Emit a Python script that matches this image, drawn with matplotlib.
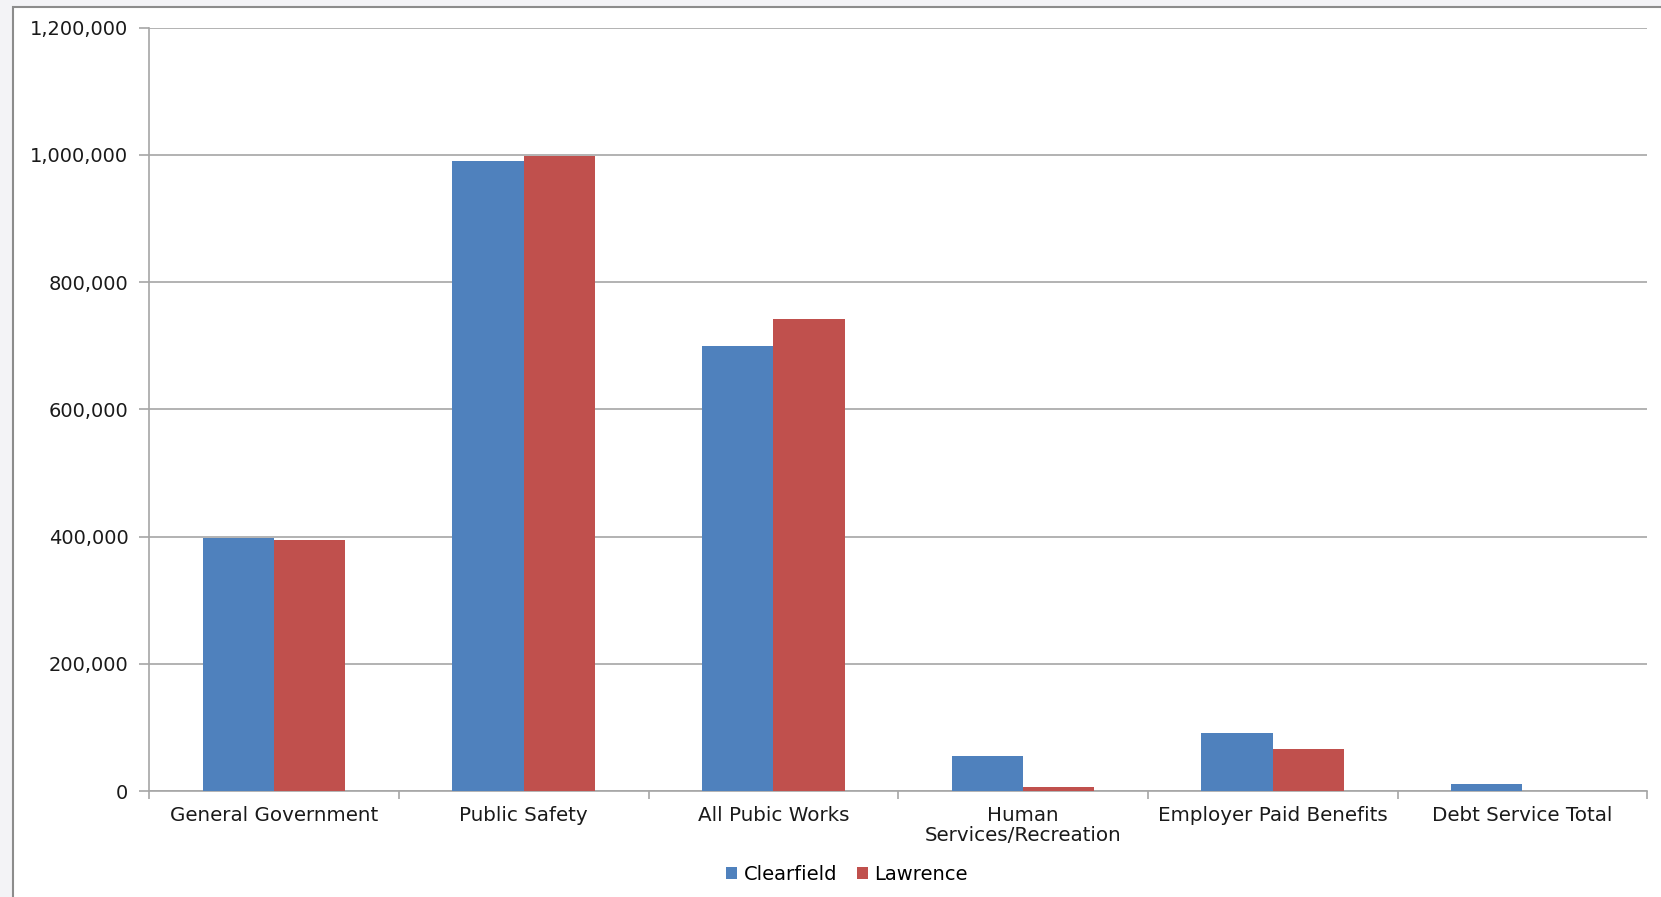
import matplotlib.pyplot as plt
from matplotlib.ticker import FuncFormatter, MultipleLocator
from matplotlib.patches import Rectangle
import numpy as np

categories = ['General Government', 'Public Safety', 'All Pubic Works',
              'Human\nServices/Recreation', 'Employer Paid Benefits', 'Debt Service Total']
clearfield = [398000, 990000, 699000, 55000, 91000, 11500]
lawrence = [394000, 998000, 742000, 6300, 67000, 0]

blue = '#4F81BD'
red = '#C0504D'

plt.rcParams['font.family'] = ['DejaVu Sans']

fig = plt.figure(figsize=(16.61, 8.97), dpi=100, facecolor='#f3f3f6')

# white chart area with gray border (behind the axes)
frame = Rectangle((12 / 1568, -0.1), 1.2, 1.1 - 7 / 847, transform=fig.transFigure,
                  facecolor='white', edgecolor='#8c8c8c', linewidth=1.5, zorder=-1)
fig.patches.append(frame)

ax = fig.add_axes([0.0899, 0.118, 0.9917 - 0.0899, 0.9693 - 0.118])
ax.set_zorder(1)
ax.set_facecolor('white')

x = np.arange(len(categories))
w = 1 / 3.5  # gap width 150%
ax.bar(x - w / 2, clearfield, w, color=blue, label='Clearfield', zorder=3)
ax.bar(x + w / 2, lawrence, w, color=red, label='Lawrence', zorder=3)

ax.set_xlim(-0.5, len(categories) - 0.5)
ax.set_ylim(0, 1200000)
ax.yaxis.set_major_locator(MultipleLocator(200000))
ax.yaxis.set_major_formatter(FuncFormatter(lambda v, p: f'{v:,.0f}'))
ax.grid(axis='y', color='#a6a6a6', linewidth=1.2, zorder=0)
ax.set_axisbelow(True)

ax.set_xticks(x)
ax.set_xticklabels(categories, fontsize=14.3, color='#1a1a1a', linespacing=1.05)
ax.set_xticks(np.arange(-0.5, len(categories)), minor=True)
ax.tick_params(axis='x', which='major', length=0, pad=11)
ax.tick_params(axis='x', which='minor', length=6, color='#a6a6a6', width=1.2)
ax.tick_params(axis='y', length=7, color='#a6a6a6', width=1.2, labelsize=14,
               labelcolor='#1a1a1a', pad=8)

for s in ['top', 'right']:
    ax.spines[s].set_visible(False)
for s in ['left', 'bottom']:
    ax.spines[s].set_color('#a6a6a6')
    ax.spines[s].set_linewidth(1.2)

fig.legend(loc='center', bbox_to_anchor=(0.51, 0.025), ncol=2, frameon=False,
           fontsize=14, handlelength=0.55, handleheight=0.55, handletextpad=0.35,
           columnspacing=1.0)

fig.savefig('out.png', dpi=100, facecolor=fig.get_facecolor())
